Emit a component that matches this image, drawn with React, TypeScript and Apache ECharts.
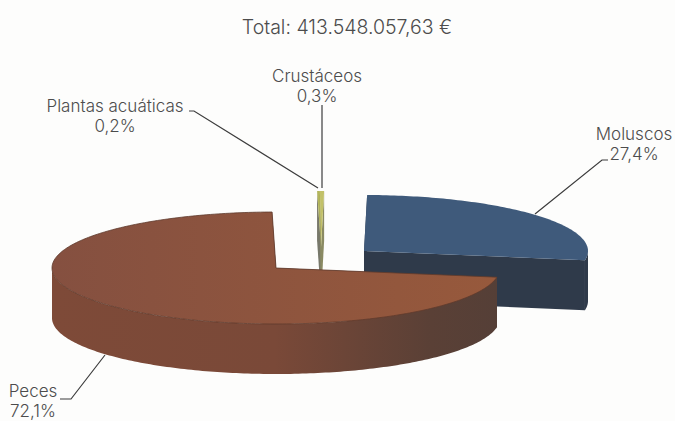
import React, { useEffect, useRef } from "react";
import * as echarts from "echarts";

const categories = ["Moluscos", "Peces", "Plantas acuáticas", "Crustáceos"];
const shares = [27.4, 72.1, 0.2, 0.3];
const shareLabels = ["27,4%", "72,1%", "0,2%", "0,3%"];
const totalLabel = "Total: 413.548.057,63 €";

const FONT = "Inter, Lato, sans-serif";
const TEXT = "#4c4c4c";
const RX = 224;
const RY = 56;
const DEPTH = 50;
const START = 0.8;
const centers = [[364, 251], [276, 268], [321, 247], [321, 247]];
const depthRank = [1, 4, 2, 3];
const topColors: any[] = [
  "#3f5a7b",
  new echarts.graphic.LinearGradient(0, 0, 1, 0, [
    { offset: 0, color: "#855040" },
    { offset: 1, color: "#97593c" },
  ]),
  "#b4b65a",
  "#c2c168",
];
const wallColors: any[] = [
  "#2f3a4a",
  new echarts.graphic.LinearGradient(0, 0, 1, 0, [
    { offset: 0, color: "#7e4a38" },
    { offset: 0.5, color: "#7a4938" },
    { offset: 0.85, color: "#5a4036" },
    { offset: 1, color: "#553f37" },
  ]),
  "#77786a",
  "#8a8a62",
];
const labelSpots = [
  { x: 634, y: 144 },
  { x: 33, y: 400.5 },
  { x: 115, y: 116 },
  { x: 317, y: 86 },
];
const leaders = [
  [[608, 160], [602, 160], [535, 214]],
  [[60, 399], [71, 399], [105, 355]],
  [[189, 111], [194, 111], [318, 188]],
  [[322, 105], [322, 188]],
];

function renderSlice(params: any) {
  const i = params.dataIndex;
  const total = shares.reduce((a, b) => a + b, 0);
  let before = 0;
  for (let k = 0; k < i; k++) before += shares[k];
  const a0 = START + (before / total) * 360;
  const a1 = a0 + (shares[i] / total) * 360;
  const [cx, cy] = centers[i];
  const at = (deg: number, dy = 0) => {
    const r = (deg * Math.PI) / 180;
    return [cx + RX * Math.sin(r), cy - RY * Math.cos(r) + dy];
  };
  const steps = Math.max(4, Math.ceil(a1 - a0));
  const arc: number[][] = [];
  for (let s = 0; s <= steps; s++) arc.push(at(a0 + ((a1 - a0) * s) / steps));

  const z = depthRank[i] * 10;
  const children: any[] = [];
  // cut faces
  [a0, a1].forEach((a) => {
    children.push({
      type: "polygon",
      z2: z,
      shape: { points: [[cx, cy], at(a), at(a, DEPTH), [cx, cy + DEPTH]] },
      style: { fill: wallColors[i] },
    });
  });
  // front rim
  const wLo = Math.max(a0, 90);
  const wHi = Math.min(a1, 270);
  if (wHi > wLo) {
    const upper: number[][] = [];
    const lower: number[][] = [];
    const n = Math.ceil(wHi - wLo);
    for (let s = 0; s <= n; s++) {
      const a = wLo + ((wHi - wLo) * s) / n;
      upper.push(at(a));
      lower.unshift(at(a, DEPTH));
    }
    children.push({
      type: "polygon",
      z2: z + 1,
      shape: { points: upper.concat(lower) },
      style: { fill: wallColors[i] },
    });
  }
  // top face
  children.push({
    type: "polygon",
    z2: z + 2,
    shape: { points: [[cx, cy], ...arc] },
    style: {
      fill: topColors[i],
      stroke: i === 1 ? "#5e3a2c" : "none",
      lineWidth: i === 1 ? 0.8 : 0,
    },
  });
  return { type: "group", children };
}

export default function App() {
  const ref = useRef<HTMLDivElement>(null);
  useEffect(() => {
    document.body.style.margin = "0";
    const chart = echarts.init(ref.current!, null, { renderer: "svg" });
    const graphics: any[] = [];
    categories.forEach((name, i) => {
      graphics.push({
        type: "polyline",
        shape: { points: leaders[i] },
        style: { stroke: "#3c3c3c", lineWidth: 1.2, fill: "none" },
        z: 10,
      });
      graphics.push({
        type: "text",
        x: labelSpots[i].x,
        y: labelSpots[i].y,
        style: {
          text: `${name}\n${shareLabels[i]}`,
          fill: TEXT,
          font: `300 17px ${FONT}`,
          lineHeight: 20,
          align: "center",
          verticalAlign: "middle",
          textAlign: "center",
          textVerticalAlign: "middle",
        },
        z: 10,
      });
    });
    chart.setOption({
      animation: false,
      backgroundColor: "#fdfdfc",
      title: {
        text: totalLabel,
        left: 342,
        top: 12,
        textAlign: "center",
        textStyle: { fontFamily: FONT, fontSize: 19.5, fontWeight: 300, color: TEXT },
      },
      graphic: graphics,
      series: [
        {
          type: "custom",
          coordinateSystem: "none",
          renderItem: renderSlice,
          silent: true,
          clip: false,
          data: shares.map((v, i) => ({ name: categories[i], value: v })),
        },
      ],
    });
    return () => chart.dispose();
  }, []);
  return <div ref={ref} style={{ width: 675, height: 421 }} />;
}
